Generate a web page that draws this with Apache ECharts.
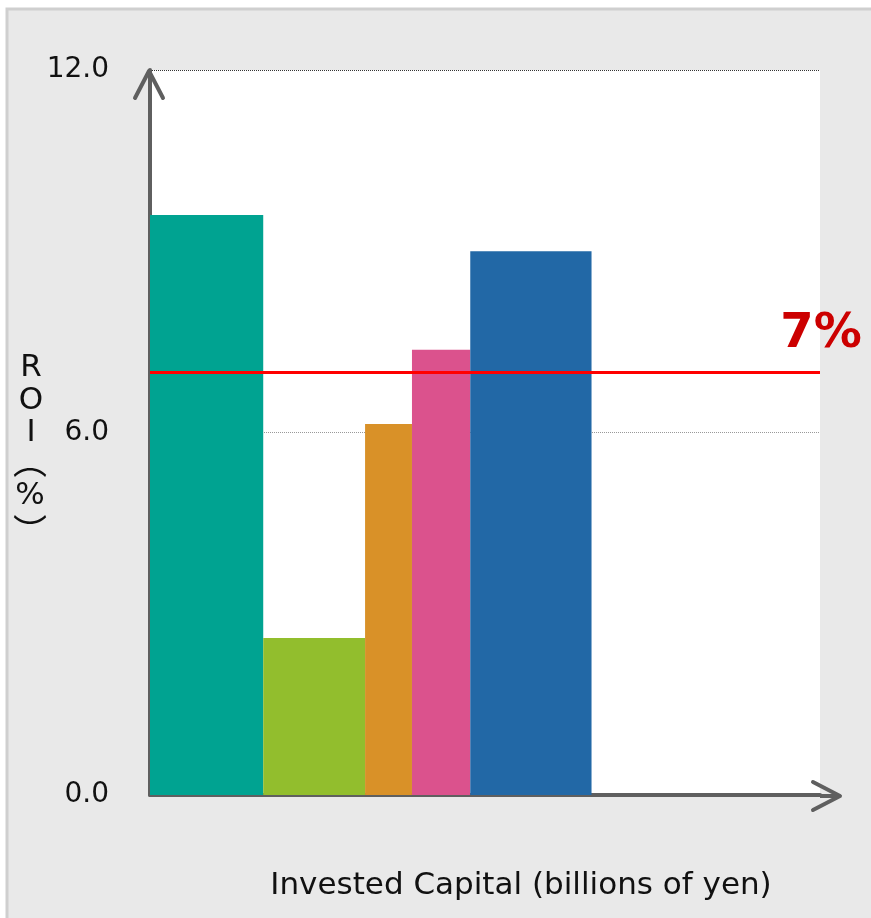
<!DOCTYPE html>
<html><head><meta charset="utf-8">
<script src="https://cdn.jsdelivr.net/npm/echarts@6/dist/echarts.min.js"></script>
<style>html,body{margin:0;padding:0;background:#fff}#c{width:871px;height:918px}</style>
</head><body><div id="c"></div>
<script>
// Data
var segmentNames = ['A', 'B', 'C', 'D', 'E'];
var capitalWidths = [16.9, 15.2, 7.0, 8.7, 18.1];   // invested capital (width of each bar)
var roiValues = [9.6, 2.6, 6.14, 7.37, 9.0];          // ROI (%)
var barColors = ['#00A391', '#92BE2D', '#D99128', '#DB528D', '#2268A6'];
var hurdleRate = 7;
var hurdleLabel = '7%';
var yTicks = [0, 6, 12];
var xMax = 100;

var rows = [];
var acc = 0;
for (var i = 0; i < capitalWidths.length; i++) {
  rows.push([acc, acc + capitalWidths[i], roiValues[i], i]);
  acc += capitalWidths[i];
}

var FONT = 'DejaVu Sans';
var AX = '#5f5f5f';
var TXT = '#111';
var chart = echarts.init(document.getElementById('c'), null, {renderer: 'canvas'});
var option = {
  backgroundColor: '#ffffff',
  animation: false,
  grid: {left: 150, right: 51, top: 70, bottom: 123, show: true, backgroundColor: '#ffffff', borderWidth: 0},
  xAxis: {
    type: 'value', min: 0, max: xMax,
    axisLine: {show: true, lineStyle: {color: AX, width: 4}},
    axisTick: {show: false}, axisLabel: {show: false}, splitLine: {show: false}
  },
  yAxis: {
    type: 'value', min: yTicks[0], max: yTicks[yTicks.length - 1], interval: 6,
    axisLine: {show: true, lineStyle: {color: AX, width: 4}},
    axisTick: {show: false},
    axisLabel: {
      color: TXT, fontFamily: FONT, fontSize: 28, margin: 41,
      formatter: function (v) { return v.toFixed(1); }
    },
    splitLine: {show: true, lineStyle: {type: 'dotted', width: 1, color: ['#ffffff', '#999999', '#333333']}}
  },
  series: [{
    type: 'custom',
    data: rows,
    encode: {x: [0, 1], y: 2},
    renderItem: function (params, api) {
      var p0 = api.coord([api.value(0), api.value(2)]);
      var p1 = api.coord([api.value(1), 0]);
      return {
        type: 'rect',
        shape: {x: p0[0], y: p0[1], width: p1[0] - p0[0], height: p1[1] - p0[1]},
        style: {fill: barColors[api.value(3)]}
      };
    },
    markLine: {
      silent: true, symbol: 'none',
      lineStyle: {color: '#ff0000', width: 3, type: 'solid'},
      label: {show: false},
      data: [{yAxis: hurdleRate}]
    },
    z: 2
  }],
  graphic: [
    {type: 'rect', z: -100, silent: true, shape: {x: 7, y: 9, width: 900, height: 950},
     style: {fill: '#e9e9e9', stroke: '#cfcfcf', lineWidth: 3}},
    // axis arrowheads & x-axis extension
    {type: 'polyline', z: 100, shape: {points: [[135, 98], [149, 71], [163, 98]]},
     style: {stroke: AX, lineWidth: 4, fill: null, lineCap: 'round', lineJoin: 'round'}},
    {type: 'line', z: 100, shape: {x1: 820, y1: 796, x2: 839, y2: 796},
     style: {stroke: AX, lineWidth: 4}},
    {type: 'polyline', z: 100, shape: {points: [[813, 782], [840, 796], [813, 810]]},
     style: {stroke: AX, lineWidth: 4, fill: null, lineCap: 'round', lineJoin: 'round'}},
    // hurdle label
    {type: 'text', z: 100, x: 821, y: 335,
     style: {text: hurdleLabel, fill: '#cc0000', font: 'bold 48px "DejaVu Sans"', textAlign: 'center', textVerticalAlign: 'middle'}},
    // y axis name, vertical
    {type: 'text', z: 100, x: 31, y: 368, style: {text: 'R', fill: TXT, font: '31px "DejaVu Sans"', textAlign: 'center', textVerticalAlign: 'middle'}},
    {type: 'text', z: 100, x: 31, y: 401, style: {text: 'O', fill: TXT, font: '31px "DejaVu Sans"', textAlign: 'center', textVerticalAlign: 'middle'}},
    {type: 'text', z: 100, x: 31, y: 433, style: {text: 'I', fill: TXT, font: '31px "DejaVu Sans"', textAlign: 'center', textVerticalAlign: 'middle'}},
    {type: 'text', z: 100, x: 30, y: 461, style: {text: '\uFE35', fill: TXT, font: '34px "Noto Sans CJK JP"', textAlign: 'center', textVerticalAlign: 'middle'}},
    {type: 'text', z: 100, x: 30, y: 496, style: {text: '%', fill: TXT, font: '31px "DejaVu Sans"', textAlign: 'center', textVerticalAlign: 'middle'}},
    {type: 'text', z: 100, x: 30, y: 531, style: {text: '\uFE36', fill: TXT, font: '34px "Noto Sans CJK JP"', textAlign: 'center', textVerticalAlign: 'middle'}},
    // x axis name
    {type: 'text', z: 100, x: 521, y: 886, style: {text: 'Invested Capital (billions of yen)', fill: TXT, font: '31px "DejaVu Sans"', textAlign: 'center', textVerticalAlign: 'middle'}}
  ]
};
chart.setOption(option);
</script>
</body></html>
